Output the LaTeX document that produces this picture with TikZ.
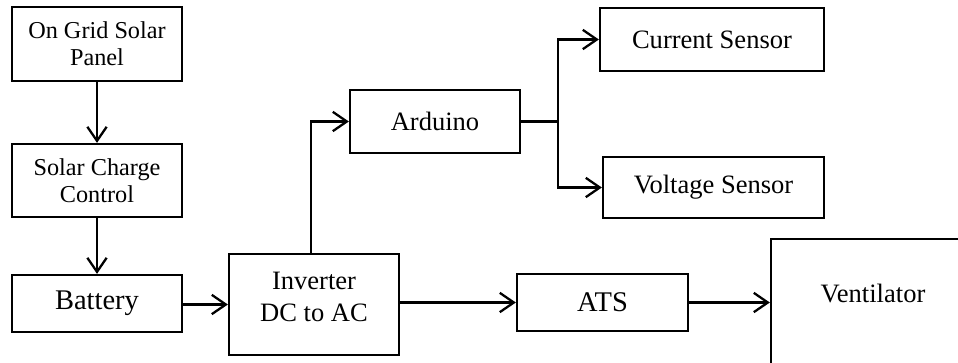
\documentclass[tikz,border=0pt]{standalone}
\usepackage{fontspec}
\setmainfont{Liberation Serif}
\usepackage{tikz}
\usetikzlibrary{arrows.meta, positioning, calc}

\tikzset{
    block/.style={draw, line width=1.3pt, align=center, inner sep=0pt,
        font=\fontsize{15.1}{18}\selectfont},
    smallblock/.style={block, font=\fontsize{13.8}{15.4}\selectfont},
    bigblock/.style={block, font=\fontsize{16.2}{19}\selectfont},
    link/.style={line width=1.3pt, -{Straight Barb[length=8pt, width=11pt, line width=1.3pt]}},
    wire/.style={line width=1.3pt}
}

\begin{document}
\begin{tikzpicture}
\useasboundingbox (0,0) rectangle (19.16,-7.24);
\clip (0,0) rectangle (19.16,-7.24);

% left column
\node[smallblock, minimum width=3.4cm, minimum height=1.48cm] (panel) at (1.94,-0.88) {On Grid Solar\\Panel};
\node[smallblock, minimum width=3.4cm, minimum height=1.46cm] (charge) at (1.94,-3.61) {Solar Charge\\Control};
\node[bigblock, minimum width=3.4cm, minimum height=1.14cm] (battery) at (1.94,-6.07) {Battery};

% middle
\node[block, minimum width=3.4cm, minimum height=2.02cm, text depth=0.3cm] (inverter) at (6.28,-6.09) {Inverter\\DC to AC};
\node[block, minimum width=3.4cm, minimum height=1.26cm] (arduino) at (8.70,-2.43) {Arduino};
\node[bigblock, minimum width=3.42cm, minimum height=1.14cm] (ats) at (12.05,-6.05) {ATS};

% sensors
\node[block, minimum width=4.48cm, minimum height=1.26cm] (current) at (14.24,-0.79) {Current Sensor};
\node[block, minimum width=4.42cm, minimum height=1.22cm] (voltage) at (14.27,-3.75) {Voltage Sensor};

% load (runs off the page)
\node[block, anchor=base, minimum width=4.08cm, text height=1.26cm, text depth=1.76cm] (ventilator) at (17.46,-6.04) {Ventilator};

\coordinate (split) at (11.16,-2.43);

\draw[link] (panel) -- (charge);
\draw[link] (charge) -- (battery);
\draw[link] (battery.east |- inverter.west) -- (inverter.west);
\draw[link] ([xshift=-0.06cm]inverter.north) |- (arduino.west);
\draw[wire] (arduino.east) -- (split);
\draw[link] (split) |- (current.west);
\draw[link] (split) |- (voltage.west);
\draw[link] (ats.west -| inverter.east) -- (ats.west);
\draw[link] (ats.east) -- (ats.east -| ventilator.west);
\end{tikzpicture}
\end{document}
